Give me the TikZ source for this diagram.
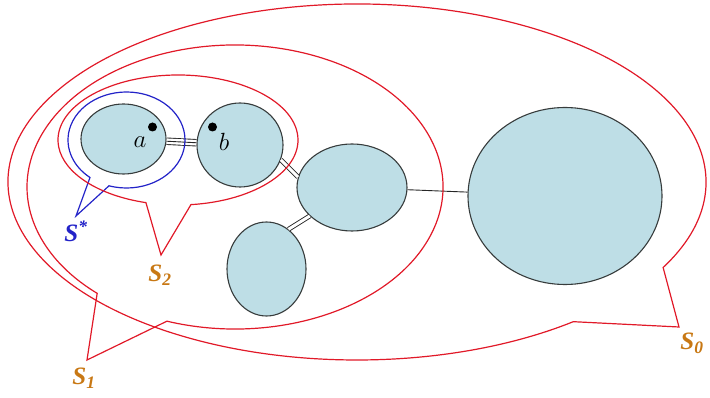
\documentclass[tikz,border=0pt]{standalone}
\usepackage{fontspec}
\newfontfamily\labelfont{Liberation Serif}
\usetikzlibrary{shapes.geometric,calc}
\definecolor{cellBlue}{RGB}{190,222,230}
\definecolor{cellEdge}{RGB}{55,60,60}
\definecolor{setRed}{RGB}{225,25,40}
\definecolor{setBlue}{RGB}{35,35,200}
\definecolor{setOrange}{RGB}{200,120,20}

\begin{document}
\begin{tikzpicture}[x=1pt, y=-1pt,
  cell/.style={draw=cellEdge, fill=cellBlue, ellipse, inner sep=0pt, line width=1.1pt},
  link/.style={draw=black!85, line width=0.9pt},
  bubble/.style={draw=setRed, line width=1.2pt, line join=miter},
  setlabel/.style={setOrange, font=\labelfont\bfseries\itshape\fontsize{25}{27}\selectfont},
  pt/.style={circle, fill=black, inner sep=0pt, minimum size=9pt}]
  \useasboundingbox (0,0) rectangle (710,398);
  % Components
  \node[cell, minimum width=85pt, minimum height=70pt] (A) at (123.5,139) {};
  \node[cell, minimum width=86pt, minimum height=84pt] (B) at (240,145) {};
  \node[cell, minimum width=110pt, minimum height=87pt] (C) at (352,187.5) {};
  \node[cell, minimum width=79pt, minimum height=94pt] (D) at (266.5,269) {};
  \node[cell, minimum width=194pt, minimum height=177pt] (E) at (565,196) {};
  % Points a and b
  \node[pt] (pa) at (152.5,127) {};
  \node[pt] (pb) at (212.5,127) {};
  \node[font=\fontsize{23}{25}\selectfont] (la) at (140,142) {$a$};
  \node[font=\fontsize{23}{25}\selectfont] (lb) at (224,142) {$b$};
  % Links
  \draw[link, double, double distance=5.6pt] (A) -- (B);
  \draw[link] (A) -- (B);
  \draw[link, double, double distance=3pt] (B.-20) -- (C.169);
  \draw[link, double, double distance=3pt] (C.214) -- (D.61);
  \draw[link] (C) -- (E);
  % Callouts
  \coordinate (cs) at (126.5,140);
  \coordinate (c2) at (178,140);
  \coordinate (c1) at (235,187);
  \coordinate (c0) at (357,182);
  \draw[bubble, draw=setBlue] ([shift={(107.4:58.5 and 48)}]cs)
    arc[start angle=107.4, end angle=-231.4, x radius=58.5, y radius=48] -- (76,216) -- cycle;
  \draw[bubble] ([shift={(83.8:120 and 65)}]c2)
    arc[start angle=83.8, end angle=-254.5, x radius=120, y radius=65] -- (161,255) -- cycle;
  \draw[bubble] ([shift={(109.1:208 and 142)}]c1)
    arc[start angle=109.1, end angle=-228.5, x radius=208, y radius=142] -- (87,360) -- cycle;
  \draw[bubble] ([shift={(28.7:349 and 178)}]c0)
    arc[start angle=28.7, end angle=-308.3, x radius=349, y radius=178] -- (679,327) -- cycle;
  % Labels
  \node[setlabel, setBlue] (ls) at (76,231) {S\textsuperscript{*}};
  \node[setlabel] (l2) at (160,275) {S\textsubscript{2}};
  \node[setlabel] (l1) at (84,378) {S\textsubscript{1}};
  \node[setlabel] (l0) at (692,343) {S\textsubscript{0}};
\end{tikzpicture}
\end{document}
